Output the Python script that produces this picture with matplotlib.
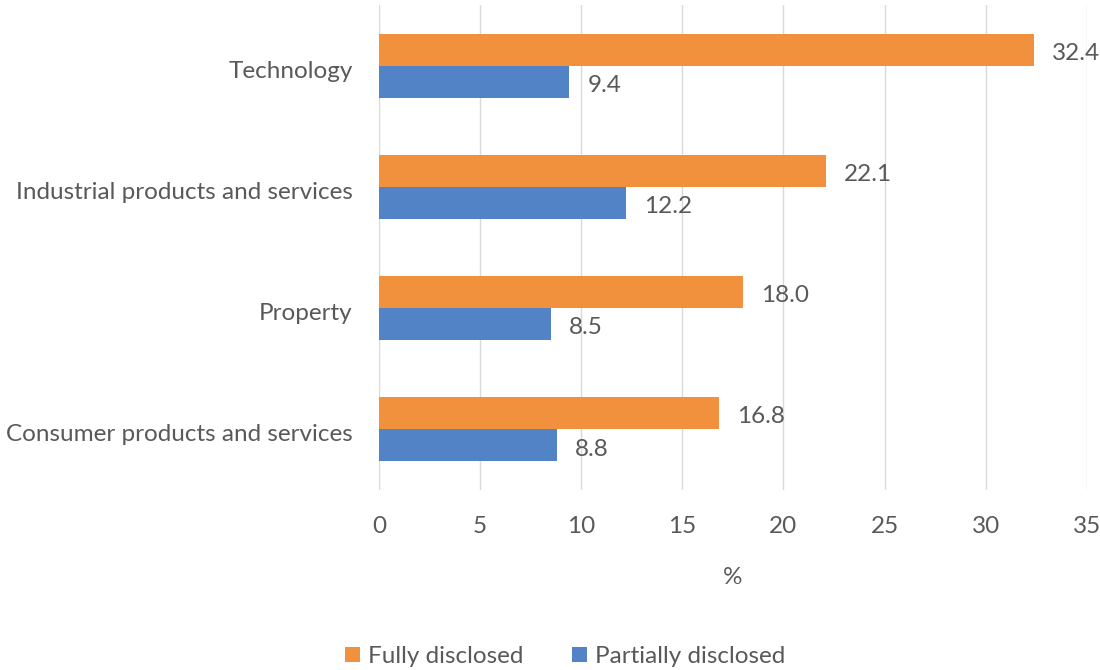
import matplotlib

matplotlib.use("Agg")
import matplotlib.pyplot as plt
import numpy as np

sectors = [
    "Technology",
    "Industrial products and services",
    "Property",
    "Consumer products and services",
]
fully = [32.4, 22.1, 18.0, 16.8]
partially = [9.4, 12.2, 8.5, 8.8]
x_ticks = [0, 5, 10, 15, 20, 25, 30, 35]

ORANGE = "#F2913D"
BLUE = "#5183C6"
TEXT = "#595959"
FS = 17.5

plt.rcParams["font.family"] = ["Lato", "DejaVu Sans"]

fig = plt.figure(figsize=(11, 6.7), dpi=100)
ax = fig.add_axes([0.3445, 0.2687, 0.6435, 0.7238])

y = np.arange(len(sectors))
h = 0.265
b1 = ax.barh(y - h / 2, fully, height=h, color=ORANGE, label="Fully disclosed")
b2 = ax.barh(y + h / 2, partially, height=h, color=BLUE, label="Partially disclosed")

# value labels just past the end of each bar
for bars, vals in ((b1, fully), (b2, partially)):
    for bar, v in zip(bars, vals):
        ax.text(v + 0.9, bar.get_y() + bar.get_height() / 2 + 0.03, f"{v:.1f}",
                va="center", ha="left", fontsize=FS, color=TEXT)

ax.set_ylim(len(sectors) - 0.5, -0.5)
ax.set_xlim(0, 35)
ax.set_yticks(y + 0.03)
ax.set_yticklabels(sectors)
ax.set_xticks(x_ticks)
ax.tick_params(axis="both", length=0, labelsize=FS, colors=TEXT)
ax.tick_params(axis="x", pad=19)
ax.tick_params(axis="y", pad=19)
ax.grid(axis="x", color="#D9D9D9", linewidth=1)
ax.set_axisbelow(True)
for s in ax.spines.values():
    s.set_visible(False)
ax.set_xlabel("%", fontsize=FS, color=TEXT, labelpad=21)

fig.legend(loc="lower center", bbox_to_anchor=(0.514, -0.028), ncol=2,
           frameon=False, fontsize=FS, labelcolor=TEXT, handlelength=0.6,
           handleheight=0.6, handletextpad=0.35, columnspacing=2.0)

fig.savefig("out.png", dpi=100)
